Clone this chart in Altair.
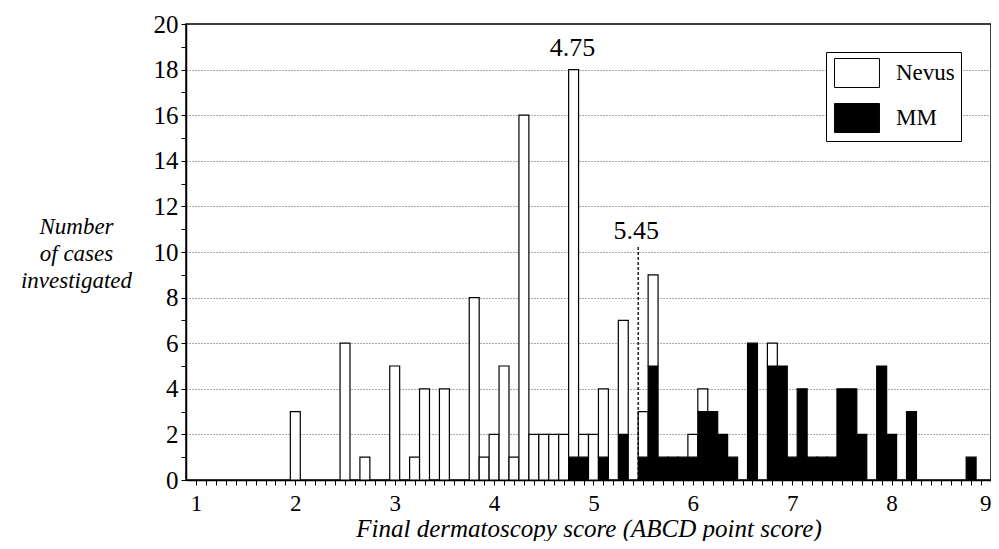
import altair as alt
import pandas as pd

# Histogram bins (bin centres, width 0.1)
scores = [2.0, 2.5, 2.7, 3.0, 3.2, 3.3, 3.5,
          3.8, 3.9, 4.0, 4.1, 4.2, 4.3,
          4.4, 4.5, 4.6, 4.7, 4.8, 4.9,
          5.0, 5.1, 5.3, 5.5, 5.6,
          5.7, 5.8, 5.9, 6.0, 6.1, 6.2, 6.3, 6.4,
          6.6, 6.8, 6.9, 7.0, 7.1, 7.2, 7.3, 7.4,
          7.5, 7.6, 7.7, 7.9, 8.0, 8.2, 8.8]
nevus = [3, 6, 1, 5, 1, 4, 4,
         8, 1, 2, 5, 1, 16,
         2, 2, 2, 2, 17, 1,
         2, 3, 5, 2, 4,
         0, 0, 0, 1, 1, 0, 0, 0,
         0, 1, 0, 0, 0, 0, 0, 0,
         0, 0, 0, 0, 0, 0, 0]
mm = [0, 0, 0, 0, 0, 0, 0,
      0, 0, 0, 0, 0, 0,
      0, 0, 0, 0, 1, 1,
      0, 1, 2, 1, 5,
      1, 1, 1, 1, 3, 3, 2, 1,
      6, 5, 5, 1, 4, 1, 1, 1,
      4, 4, 2, 5, 2, 3, 1]
series_names = ["Nevus", "MM"]

ann_x = [4.79, 5.43]
ann_y = [18.6, 10.55]
ann_text = ["4.75", "5.45"]
cut_x = [5.45]
cut_top = [10.3]

x_ticks = [round(1 + 0.1 * i, 1) for i in range(81)]
y_ticks = list(range(0, 21))

rows = []
for s, n, m in zip(scores, nevus, mm):
    if m:
        rows.append({"series": "MM", "x0": s - 0.05, "x1": s + 0.05, "y0": 0, "y1": m})
    if n:
        rows.append({"series": "Nevus", "x0": s - 0.05, "x1": s + 0.05, "y0": m, "y1": m + n})
df = pd.DataFrame(rows)
ann = pd.DataFrame({"x0": ann_x, "y0": ann_y, "t": ann_text})
cut = pd.DataFrame({"x0": cut_x, "y0": [0] * len(cut_x), "y1": cut_top})

FONT = "Liberation Serif"
xscale = alt.Scale(domain=[0.9, 9.0], nice=False, zero=False)
yscale = alt.Scale(domain=[0, 20], nice=False, zero=True)

xaxis = alt.Axis(
    values=x_ticks,
    labelExpr="abs(datum.value - round(datum.value)) < 0.001 ? format(datum.value, 'd') : ''",
    labelOverlap=False, labelFlush=False, tickSize=5, labelPadding=7,
    labelFont=FONT, labelFontSize=23, labelColor="black",
    labelAlign={"condition": {"test": "datum.value >= 8.95", "value": "right"}, "value": "center"},
    grid=False,
    title="Final dermatoscopy score (ABCD point score)",
    titleFont=FONT, titleFontSize=25, titleFontStyle="italic", titleFontWeight="normal",
    titleColor="black", titleY=56, titleBaseline="alphabetic")
yaxis = alt.Axis(
    values=y_ticks,
    labelExpr="datum.value % 2 === 0 ? datum.label : ''",
    labelOverlap=False, labelFlush=False, tickSize=5, labelPadding=3,
    labelFont=FONT, labelFontSize=25, labelColor="black",
    grid=True, gridColor="#555555", gridDash=[1, 2], gridWidth=1,
    gridOpacity={"condition": {"test": "datum.value % 2 === 1 || datum.value === 0 || datum.value === 20", "value": 0}, "value": 1},
    title=["Number", "of cases", "investigated"],
    titleAngle=0, titleAlign="center", titleBaseline="alphabetic",
    titleX=-110, titleY=209, titleLineHeight=27,
    titleFont=FONT, titleFontSize=23, titleFontStyle="italic", titleFontWeight="normal",
    titleColor="black")

bars = alt.Chart(df).mark_rect(stroke="black", strokeWidth=1.2).encode(
    x=alt.X("x0:Q", scale=xscale, axis=xaxis),
    x2="x1:Q",
    y=alt.Y("y0:Q", scale=yscale, axis=yaxis),
    y2="y1:Q",
    fill=alt.Fill("series:N",
                  scale=alt.Scale(domain=series_names, range=["white", "black"]),
                  legend=alt.Legend(
                      title=None, orient="none", legendX=640, legendY=28,
                      fillColor="white", strokeColor="black", padding=6,
                      symbolType="M-1.55,-1H1.55V1H-1.55Z", symbolSize=841,
                      symbolStrokeColor="black", symbolStrokeWidth=1,
                      symbolOffset=10,
                      labelFont=FONT, labelFontSize=23, labelColor="black",
                      labelOffset=24, rowPadding=11)),
)

rule = alt.Chart(cut).mark_rule(color="black", strokeDash=[3, 2], strokeWidth=1.3).encode(
    x=alt.X("x0:Q", scale=xscale, axis=xaxis),
    y=alt.Y("y0:Q", scale=yscale, axis=yaxis),
    y2="y1:Q",
)

labels = alt.Chart(ann).mark_text(font=FONT, fontSize=26, color="black",
                                  align="center", baseline="alphabetic").encode(
    x=alt.X("x0:Q", scale=xscale, axis=xaxis),
    y=alt.Y("y0:Q", scale=yscale, axis=yaxis),
    text="t:N",
)

chart = alt.layer(bars, rule, labels).properties(
    width=805, height=456,
    padding={"left": 178, "top": 16, "right": 0, "bottom": 61},
    autosize=alt.AutoSizeParams(type="none"),
).configure_view(
    stroke="black", strokeWidth=1.5
).configure_axis(
    labelFont=FONT, titleFont=FONT, labelColor="black", titleColor="black",
    domainColor="black", domainWidth=1.5, tickColor="black", tickWidth=1,
)

chart.save("out.html", embed_options={"renderer": "svg", "actions": False})
